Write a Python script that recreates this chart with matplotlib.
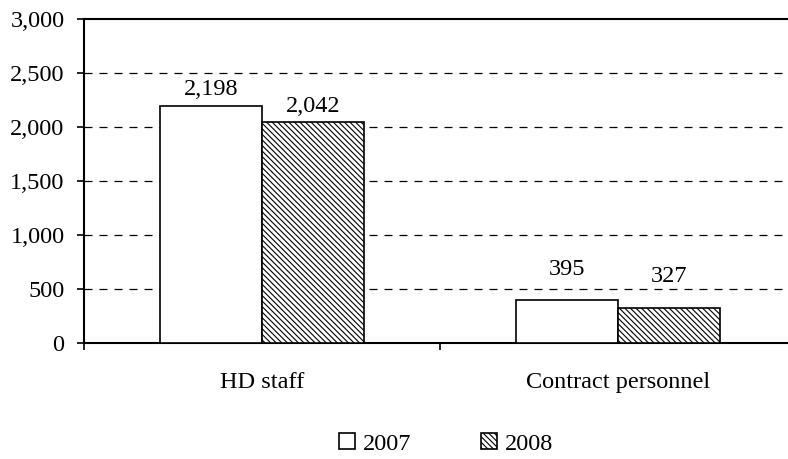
import matplotlib.pyplot as plt
import numpy as np

categories = ['HD staff', 'Contract personnel']
years = ['2007', '2008']
values_2007 = [2198, 395]
values_2008 = [2042, 327]
y_ticks = [0, 500, 1000, 1500, 2000, 2500, 3000]

plt.rcParams['font.family'] = ['Liberation Serif', 'DejaVu Serif']
plt.rcParams['hatch.linewidth'] = 0.8
plt.rcParams['hatch.color'] = '#333333'

fig = plt.figure(figsize=(7.88, 4.59), dpi=100)
ax = fig.add_axes([84 / 788, 1 - 343 / 459, 712 / 788, 324 / 459])

x = np.arange(len(categories))
w = 0.287
b1 = ax.bar(x - w / 2, values_2007, w, color='white', edgecolor='black',
            linewidth=1.2, label=years[0], zorder=3)
b2 = ax.bar(x + w / 2, values_2008, w, color='white', edgecolor='black',
            linewidth=1.2, hatch='\\\\\\\\\\\\', label=years[1], zorder=3)

# Etiquetas de valores
offsets = [4, 15]
for bars in (b1, b2):
    for i, rect in enumerate(bars):
        ax.annotate(f'{int(rect.get_height()):,}',
                    (rect.get_x() + rect.get_width() / 2, rect.get_height()),
                    xytext=(0, offsets[i]), textcoords='offset points',
                    ha='center', va='bottom', fontsize=17.5)

ax.set_ylim(0, 3000)
ax.set_xlim(-0.5, 1.5)
ax.set_yticks(y_ticks)
ax.set_yticklabels([f'{v:,}' for v in y_ticks], fontsize=17.5)
for v in y_ticks[1:-1]:
    ax.axhline(v, color='black', linestyle=(0, (6.4, 5.6)), linewidth=0.9, zorder=1)

ax.set_xticks([-0.5, 0.5, 1.5])
ax.set_xticklabels([])
ax.set_xticks(x, minor=True)
ax.set_xticklabels(categories, minor=True, fontsize=17.5)
ax.tick_params(axis='x', which='minor', length=0, pad=21)
ax.tick_params(axis='x', which='major', length=5, width=1.2, direction='out')
ax.tick_params(axis='y', length=5, width=1.2, direction='out', pad=9)

for s in ('left', 'bottom', 'top'):
    ax.spines[s].set_linewidth(1.5)
ax.spines['right'].set_visible(False)

fig.legend(handles=[b1, b2], labels=years, loc='center',
           bbox_to_anchor=(446 / 788, 1 - 444 / 459), ncol=2, frameon=False,
           fontsize=17.5, handlelength=0.65, handleheight=0.65,
           handletextpad=0.3, columnspacing=2.9)

fig.savefig('out.png', dpi=100)
